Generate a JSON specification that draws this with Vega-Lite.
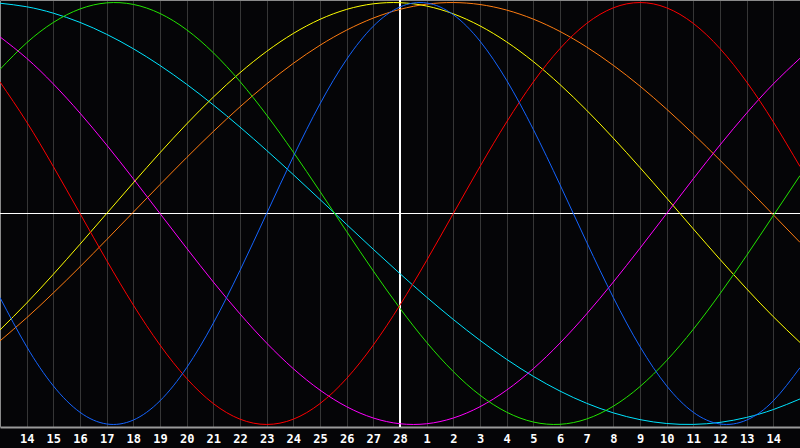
{
  "$schema": "https://vega.github.io/schema/vega-lite/v6.json",
  "width": 800,
  "height": 427,
  "autosize": {"type": "none"},
  "padding": {"left": 0, "top": 0, "right": 0, "bottom": 21},
  "background": "#050507",
  "config": {
    "view": {"stroke": null},
    "axis": {"labelFont": "DejaVu Sans Mono", "titleFont": "DejaVu Sans Mono"}
  },
  "data": {
    "values": [
      {"t": 0, "physical": -0.3984, "emotional": 0.6235, "intellectual": 0.6832, "intuitive": 0.8372, "aesthetic": -0.5518, "awareness": -0.6038, "spiritual": 0.9967},
      {"t": 1, "physical": -0.6311, "emotional": 0.4339, "intellectual": 0.809, "intuitive": 0.7357, "aesthetic": -0.4245, "awareness": -0.4943, "spiritual": 0.98},
      {"t": 2, "physical": -0.817, "emotional": 0.2225, "intellectual": 0.9056, "intuitive": 0.6142, "aesthetic": -0.2881, "awareness": -0.3766, "spiritual": 0.9496},
      {"t": 3, "physical": -0.9423, "emotional": 0, "intellectual": 0.9695, "intuitive": 0.4759, "aesthetic": -0.1456, "awareness": -0.2525, "spiritual": 0.9059},
      {"t": 4, "physical": -0.9977, "emotional": -0.2225, "intellectual": 0.9984, "intuitive": 0.3247, "aesthetic": 0, "awareness": -0.124, "spiritual": 0.8494},
      {"t": 5, "physical": -0.9791, "emotional": -0.4339, "intellectual": 0.9911, "intuitive": 0.1646, "aesthetic": 0.1456, "awareness": 0.0065, "spiritual": 0.781},
      {"t": 6, "physical": -0.8879, "emotional": -0.6235, "intellectual": 0.9481, "intuitive": 0, "aesthetic": 0.2881, "awareness": 0.137, "spiritual": 0.7016},
      {"t": 7, "physical": -0.7308, "emotional": -0.7818, "intellectual": 0.8708, "intuitive": -0.1646, "aesthetic": 0.4245, "awareness": 0.2651, "spiritual": 0.6125},
      {"t": 8, "physical": -0.5196, "emotional": -0.901, "intellectual": 0.7619, "intuitive": -0.3247, "aesthetic": 0.5518, "awareness": 0.3887, "spiritual": 0.5146},
      {"t": 9, "physical": -0.2698, "emotional": -0.9749, "intellectual": 0.6256, "intuitive": -0.4759, "aesthetic": 0.6673, "awareness": 0.5057, "spiritual": 0.4096},
      {"t": 10, "physical": 0, "emotional": -1, "intellectual": 0.4667, "intuitive": -0.6142, "aesthetic": 0.7684, "awareness": 0.614, "spiritual": 0.2989},
      {"t": 11, "physical": 0.2698, "emotional": -0.9749, "intellectual": 0.2908, "intuitive": -0.7357, "aesthetic": 0.8535, "awareness": 0.7117, "spiritual": 0.184},
      {"t": 12, "physical": 0.5196, "emotional": -0.901, "intellectual": 0.1045, "intuitive": -0.8372, "aesthetic": 0.9204, "awareness": 0.7975, "spiritual": 0.0663},
      {"t": 13, "physical": 0.7308, "emotional": -0.7818, "intellectual": -0.0856, "intuitive": -0.9158, "aesthetic": 0.9675, "awareness": 0.8693, "spiritual": -0.0522},
      {"t": 14, "physical": 0.8879, "emotional": -0.6235, "intellectual": -0.2725, "intuitive": -0.9694, "aesthetic": 0.994, "awareness": 0.9264, "spiritual": -0.1699},
      {"t": 15, "physical": 0.9791, "emotional": -0.4339, "intellectual": -0.4497, "intuitive": -0.9966, "aesthetic": 0.9993, "awareness": 0.9676, "spiritual": -0.2852},
      {"t": 16, "physical": 0.9977, "emotional": -0.2225, "intellectual": -0.6107, "intuitive": -0.9966, "aesthetic": 0.9834, "awareness": 0.9923, "spiritual": -0.3967},
      {"t": 17, "physical": 0.9423, "emotional": 0, "intellectual": -0.7495, "intuitive": -0.9694, "aesthetic": 0.9464, "awareness": 1, "spiritual": -0.5024},
      {"t": 18, "physical": 0.817, "emotional": 0.2225, "intellectual": -0.8612, "intuitive": -0.9158, "aesthetic": 0.8893, "awareness": 0.9906, "spiritual": -0.6011},
      {"t": 19, "physical": 0.6311, "emotional": 0.4339, "intellectual": -0.9418, "intuitive": -0.8372, "aesthetic": 0.8133, "awareness": 0.9642, "spiritual": -0.6914},
      {"t": 20, "physical": 0.3984, "emotional": 0.6235, "intellectual": -0.9884, "intuitive": -0.7357, "aesthetic": 0.72, "awareness": 0.9214, "spiritual": -0.772},
      {"t": 21, "physical": 0.1362, "emotional": 0.7818, "intellectual": -0.9993, "intuitive": -0.6142, "aesthetic": 0.6112, "awareness": 0.8628, "spiritual": -0.8418},
      {"t": 22, "physical": -0.1362, "emotional": 0.901, "intellectual": -0.974, "intuitive": -0.4759, "aesthetic": 0.4894, "awareness": 0.7892, "spiritual": -0.8997},
      {"t": 23, "physical": -0.3984, "emotional": 0.9749, "intellectual": -0.9135, "intuitive": -0.3247, "aesthetic": 0.3572, "awareness": 0.7022, "spiritual": -0.945},
      {"t": 24, "physical": -0.6311, "emotional": 1, "intellectual": -0.8203, "intuitive": -0.1646, "aesthetic": 0.2175, "awareness": 0.6037, "spiritual": -0.9771},
      {"t": 25, "physical": -0.817, "emotional": 0.9749, "intellectual": -0.6969, "intuitive": 0, "aesthetic": 0.0731, "awareness": 0.4944, "spiritual": -0.9954},
      {"t": 26, "physical": -0.9423, "emotional": 0.901, "intellectual": -0.5486, "intuitive": 0.1646, "aesthetic": -0.0731, "awareness": 0.3766, "spiritual": -0.9997},
      {"t": 27, "physical": -0.9977, "emotional": 0.7818, "intellectual": -0.3804, "intuitive": 0.3247, "aesthetic": -0.2175, "awareness": 0.2525, "spiritual": -0.9901},
      {"t": 28, "physical": -0.9791, "emotional": 0.6235, "intellectual": -0.1986, "intuitive": 0.4759, "aesthetic": -0.3572, "awareness": 0.124, "spiritual": -0.9665},
      {"t": 29, "physical": -0.8879, "emotional": 0.4339, "intellectual": -0.0096, "intuitive": 0.6142, "aesthetic": -0.4894, "awareness": -0.0065, "spiritual": -0.9293},
      {"t": 30, "physical": -0.7308, "emotional": 0.2225, "intellectual": 0.1798, "intuitive": 0.7357, "aesthetic": -0.6112, "awareness": -0.137, "spiritual": -0.8792}
    ]
  },
  "layer": [
    {
      "mark": {"type": "rule", "color": "#ffffff", "strokeWidth": 1},
      "encoding": {
        "y": {"datum": 0, "type": "quantitative", "scale": {"domain": [-1.012, 1.012]}}
      }
    },
    {
      "mark": {"type": "rule", "color": "#ffffff", "strokeWidth": 1},
      "encoding": {
        "x": {
          "datum": 15,
          "type": "quantitative",
          "scale": {"domain": [0, 30]},
          "axis": {"orient": "top", "labels": false, "ticks": false, "grid": false, "title": null, "domainColor": "#8a8a8a"}
        }
      }
    },
    {
      "transform": [
        {"fold": ["spiritual", "awareness", "aesthetic", "intuitive", "intellectual", "emotional", "physical"], "as": ["cycle", "value"]}
      ],
      "mark": {"type": "line", "strokeWidth": 1, "interpolate": "natural"},
      "encoding": {
        "x": {
          "field": "t",
          "type": "quantitative",
          "scale": {"domain": [0, 30], "nice": false, "zero": false},
          "axis": {
            "orient": "bottom",
            "values": [1, 2, 3, 4, 5, 6, 7, 8, 9, 10, 11, 12, 13, 14, 15, 16, 17, 18, 19, 20, 21, 22, 23, 24, 25, 26, 27, 28, 29],
            "labelExpr": "datum.value <= 15 ? datum.value + 13 : datum.value - 15",
            "grid": true,
            "gridColor": "#363636",
            "gridWidth": 1,
            "ticks": false,
            "domainColor": "#9a9a9a",
            "domainWidth": 2,
            "labelColor": "#ffffff",
            "labelFontSize": 12,
            "labelFontWeight": "bold",
            "labelBaseline": "middle",
            "labelPadding": 11,
            "labelFlush": false,
            "labelOverlap": false,
            "title": null
          }
        },
        "y": {
          "field": "value",
          "type": "quantitative",
          "scale": {"domain": [-1.012, 1.012], "nice": false, "zero": false},
          "axis": {"labels": false, "ticks": false, "grid": false, "title": null, "domainColor": "#8a8a8a"}
        },
        "color": {
          "field": "cycle",
          "type": "nominal",
          "scale": {
            "domain": ["physical", "emotional", "intellectual", "intuitive", "aesthetic", "awareness", "spiritual"],
            "range": ["#1464ff", "#ff0000", "#22e400", "#ff00ff", "#ffff00", "#ff7c10", "#00e4ff"]
          },
          "legend": null
        },
        "detail": {"field": "cycle"}
      }
    }
  ]
}
